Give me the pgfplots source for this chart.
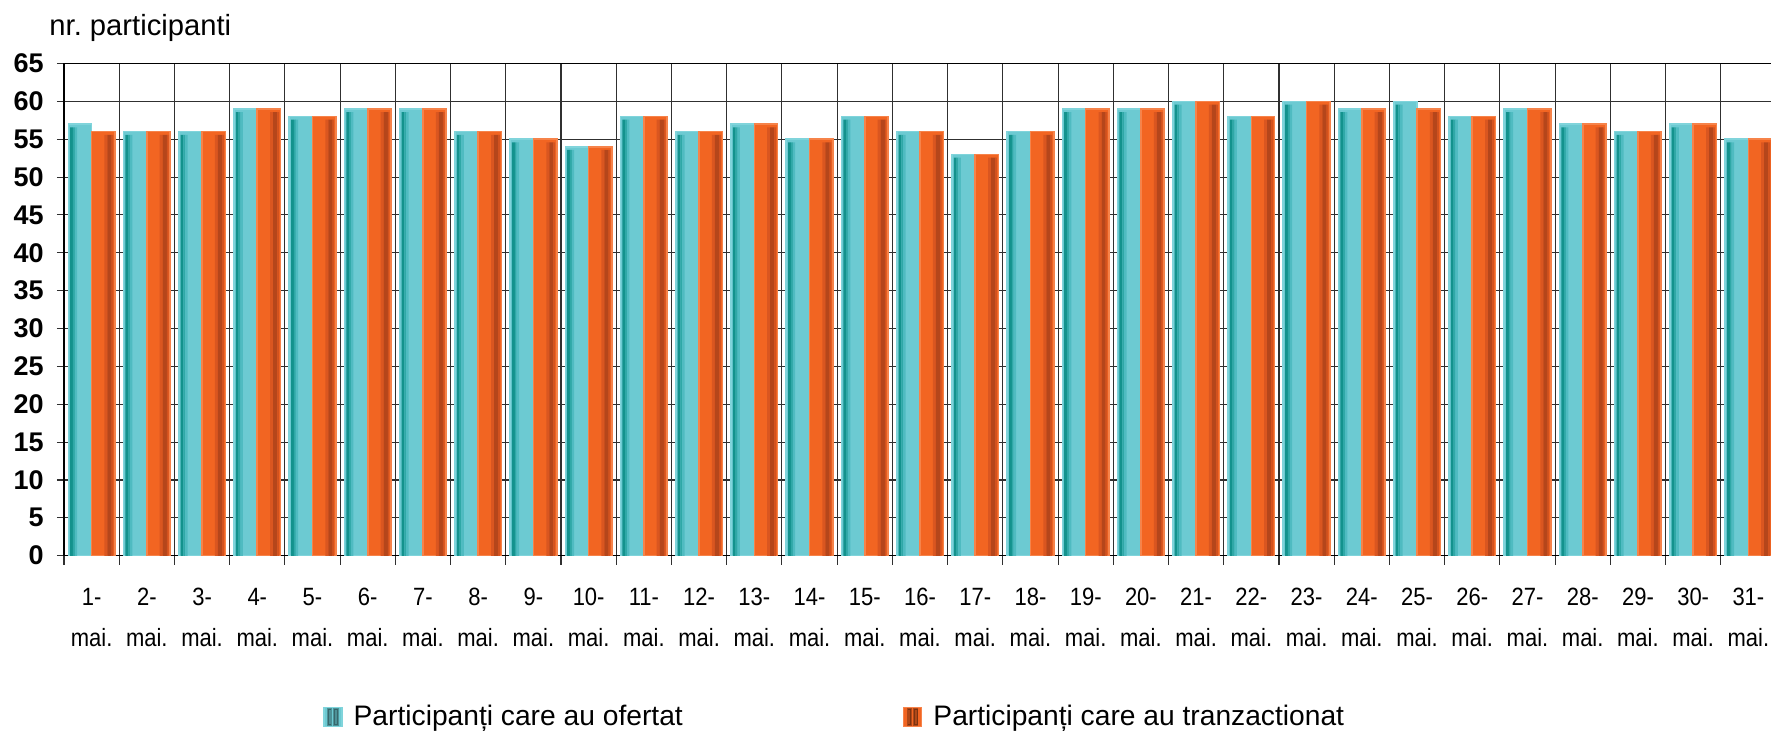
\documentclass[border=0pt]{standalone}
\usepackage{fontspec}
\setmainfont{Liberation Sans}
\newfontfamily\narrowfont{Liberation Sans}[FakeStretch=0.88]
\usepackage{pgfplots}
\usepackage{pgfplotstable}
\pgfplotsset{compat=1.18}
\frenchspacing

\definecolor{gridc}{HTML}{303030}
\definecolor{tbase}{HTML}{6CCAD2}
\definecolor{tline}{HTML}{80D4DB}
\definecolor{tdark}{HTML}{13928D}
\definecolor{tmid}{HTML}{2FA8A7}
\definecolor{tmid2}{HTML}{4FBBC1}
\definecolor{obase}{HTML}{F26522}
\definecolor{oline}{HTML}{F6834A}
\definecolor{omid}{HTML}{DA5620}
\definecolor{odark}{HTML}{B5461B}
\definecolor{omid2}{HTML}{D2521F}

\pgfplotstableread{
day of tr
1 57 56
2 56 56
3 56 56
4 59 59
5 58 58
6 59 59
7 59 59
8 56 56
9 55 55
10 54 54
11 58 58
12 56 56
13 57 57
14 55 55
15 58 58
16 56 56
17 53 53
18 56 56
19 59 59
20 59 59
21 60 60
22 58 58
23 60 60
24 59 59
25 60 59
26 58 58
27 59 59
28 57 57
29 56 56
30 57 57
31 55 55
}\datatable

\pgfplotsset{
  stripe/.style n args={3}{ybar, bar width=#1, bar shift=#2, fill=#3, draw=none, forget plot, yshift=-1.6pt},
}

\begin{document}
\begin{tikzpicture}
\begin{axis}[
  scale only axis, width=856pt, height=246.1pt,
  xmin=0.5, xmax=31.5, ymin=0, ymax=65,
  xtick={1,...,31},
  xticklabels={{1-\\mai.},{2-\\mai.},{3-\\mai.},{4-\\mai.},{5-\\mai.},{6-\\mai.},{7-\\mai.},{8-\\mai.},{9-\\mai.},{10-\\mai.},{11-\\mai.},{12-\\mai.},{13-\\mai.},{14-\\mai.},{15-\\mai.},{16-\\mai.},{17-\\mai.},{18-\\mai.},{19-\\mai.},{20-\\mai.},{21-\\mai.},{22-\\mai.},{23-\\mai.},{24-\\mai.},{25-\\mai.},{26-\\mai.},{27-\\mai.},{28-\\mai.},{29-\\mai.},{30-\\mai.},{31-\\mai.}},
  minor xtick={0.5,1.5,...,31.5},
  xminorgrids, ymajorgrids,
  ytick={0,5,...,65},
  xtick pos=lower, ytick pos=left,
  tick align=outside,
  major tick length=3.5pt, minor tick length=4.5pt,
  major x tick style={draw=none},
  minor x tick style={gridc, line width=0.55pt},
  y tick style={gridc, line width=0.55pt},
  grid style={gridc, line width=0.55pt},
  minor grid style={gridc, line width=0.55pt},
  axis line style={black, line width=0.7pt},
  /pgf/number format/assume math mode=true,
  yticklabel style={font=\bfseries\fontsize{13.5}{16}\selectfont, xshift=-3.2pt},
  xticklabel style={font=\narrowfont\fontsize{12.5}{20.5}\selectfont, align=center, yshift=-9.3pt},
  legend columns=2,
  legend image code/.code={\draw[#1] (0pt,-4.75pt) rectangle (9pt,4.75pt);
     \fill[black,opacity=0.28] (2pt,-4pt) rectangle (3.8pt,4pt);
     \fill[black,opacity=0.28] (5.2pt,-4pt) rectangle (7pt,4pt);},
  legend style={draw=none, fill=none, at={(0.1511,-0.3277)}, anchor=west,
    font=\fontsize{14.1}{17}\selectfont, inner sep=0pt,
    nodes={inner sep=0pt, anchor=west},
    /tikz/every odd column/.append style={column sep=5.5pt},
    /tikz/every even column/.append style={column sep=110pt}},
]
% teal bars: base + shading stripes
\addplot[ybar, bar width=11.65pt, bar shift=-5.825pt, fill=tbase, draw=tline, line width=0.8pt] table[x=day, y=of] {\datatable};
\addlegendentry{Participanți care au ofertat}
\addplot[stripe={1.4pt}{-10.02pt}{tdark}] table[x=day, y=of] {\datatable};
\addplot[stripe={0.95pt}{-8.85pt}{tmid}] table[x=day, y=of] {\datatable};
\addplot[stripe={1.2pt}{-7.8pt}{tmid2}] table[x=day, y=of] {\datatable};
% orange bars: base + shading stripes
\addplot[ybar, bar width=11.65pt, bar shift=5.825pt, fill=obase, draw=oline, line width=0.8pt] table[x=day, y=tr] {\datatable};
\addlegendentry{Participanți care au tranzactionat}
\addplot[stripe={1.5pt}{7.17pt}{omid}] table[x=day, y=tr] {\datatable};
\addplot[stripe={2.1pt}{8.97pt}{odark}] table[x=day, y=tr] {\datatable};
\addplot[stripe={0.85pt}{10.43pt}{omid2}] table[x=day, y=tr] {\datatable};
\end{axis}
\node[anchor=base west, inner sep=0pt, font=\fontsize{14.6}{17}\selectfont] at ([xshift=-7.5pt,yshift=13.75pt]current axis.north west) {nr. participanti};
\pgfresetboundingbox
\path ([xshift=-32pt,yshift=31.75pt]current axis.north west) rectangle ([xshift=-2.5pt,yshift=-89.15pt]current axis.south east);
\end{tikzpicture}
\end{document}
